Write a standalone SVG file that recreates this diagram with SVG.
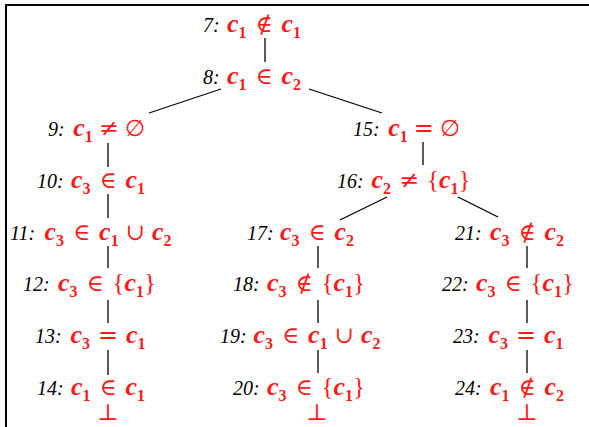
<svg xmlns="http://www.w3.org/2000/svg" width="589" height="427" viewBox="0 0 589 427">
<style>
.lb{font-family:"Liberation Serif","DejaVu Serif",serif;font-style:italic;font-size:20px;fill:#000}
.m{font-family:"Liberation Serif","DejaVu Serif",serif;font-size:21px;fill:#ff1a1a;text-anchor:middle}
.v{font-weight:bold;font-style:italic;font-size:26px}
.s{font-weight:bold;font-size:16px}
.r{font-family:"DejaVu Serif",serif;font-size:23px}
.ne{font-family:"DejaVu Serif",serif;font-size:24px}
.b{font-family:"Liberation Serif",serif;font-size:25px}
.e{stroke:#000;stroke-width:1.3;fill:none}
.frame{stroke:#000;stroke-width:2;fill:none}
</style>
<rect width="589" height="427" fill="#fff"/>
<path class="frame" d="M6 427 V5 H589"/>
<g id="connectors">
<path class="e" d="M265 38 V62"/>
<path class="e" d="M221 89 L149 113"/>
<path class="e" d="M309 89 L382 113"/>
<path class="e" d="M108 143 V167"/>
<path class="e" d="M108 194 V218"/>
<path class="e" d="M108 246 V268"/>
<path class="e" d="M108 300 V323"/>
<path class="e" d="M108 350 V375"/>
<path class="e" d="M423 142 V165"/>
<path class="e" d="M387 197 L340 220"/>
<path class="e" d="M458 197 L498 217"/>
<path class="e" d="M318 246 V268"/>
<path class="e" d="M318 300 V323"/>
<path class="e" d="M318 350 V373"/>
<path class="e" d="M527 246 V268"/>
<path class="e" d="M527 300 V323"/>
<path class="e" d="M527 350 V373"/>
</g>
<g id="n7"><text class="lb" x="203" y="32">7:</text><text class="m" x="264" y="32"><tspan class="v">c</tspan><tspan class="s" dy="6">1</tspan><tspan class="r" dy="-6" dx="9">∉</tspan><tspan class="v" dx="9">c</tspan><tspan class="s" dy="6">1</tspan></text></g>
<g id="n8"><text class="lb" x="203" y="84">8:</text><text class="m" x="264" y="84"><tspan class="v">c</tspan><tspan class="s" dy="6">1</tspan><tspan class="r" dy="-6" dx="9">∈</tspan><tspan class="v" dx="9">c</tspan><tspan class="s" dy="6">2</tspan></text></g>
<g id="n9"><text class="lb" x="48" y="136">9:</text><text class="m" x="109" y="136"><tspan class="v">c</tspan><tspan class="s" dy="6">1</tspan><tspan class="ne" dy="-6" dx="6">≠</tspan><tspan class="r" dx="6">∅</tspan></text></g>
<g id="n15"><text class="lb" x="353" y="136">15:</text><text class="m" x="424" y="136"><tspan class="v">c</tspan><tspan class="s" dy="6">1</tspan><tspan class="ne" dy="-6" dx="6">=</tspan><tspan class="r" dx="6">∅</tspan></text></g>
<g id="n10"><text class="lb" x="37" y="188">10:</text><text class="m" x="108" y="188"><tspan class="v">c</tspan><tspan class="s" dy="6">3</tspan><tspan class="r" dy="-6" dx="9">∈</tspan><tspan class="v" dx="9">c</tspan><tspan class="s" dy="6">1</tspan></text></g>
<g id="n16"><text class="lb" x="337" y="188">16:</text><text class="m" x="421" y="188"><tspan class="v">c</tspan><tspan class="s" dy="6">2</tspan><tspan class="ne" dy="-6" dx="8">≠</tspan><tspan class="b" dx="8">{</tspan><tspan class="v">c</tspan><tspan class="s" dy="6">1</tspan><tspan class="b" dy="-6">}</tspan></text></g>
<g id="n11"><text class="lb" x="10" y="240">11:</text><text class="m" x="108" y="240"><tspan class="v">c</tspan><tspan class="s" dy="6">3</tspan><tspan class="r" dy="-6" dx="9">∈</tspan><tspan class="v" dx="9">c</tspan><tspan class="s" dy="6">1</tspan><tspan class="r" dy="-6" dx="7">∪</tspan><tspan class="v" dx="7">c</tspan><tspan class="s" dy="6">2</tspan></text></g>
<g id="n17"><text class="lb" x="247" y="240">17:</text><text class="m" x="317" y="240"><tspan class="v">c</tspan><tspan class="s" dy="6">3</tspan><tspan class="r" dy="-6" dx="9">∈</tspan><tspan class="v" dx="9">c</tspan><tspan class="s" dy="6">2</tspan></text></g>
<g id="n21"><text class="lb" x="455" y="240">21:</text><text class="m" x="527" y="240"><tspan class="v">c</tspan><tspan class="s" dy="6">3</tspan><tspan class="r" dy="-6" dx="9">∉</tspan><tspan class="v" dx="9">c</tspan><tspan class="s" dy="6">2</tspan></text></g>
<g id="n12"><text class="lb" x="23" y="291">12:</text><text class="m" x="107" y="291"><tspan class="v">c</tspan><tspan class="s" dy="6">3</tspan><tspan class="r" dy="-6" dx="9">∈</tspan><tspan class="b" dx="9">{</tspan><tspan class="v">c</tspan><tspan class="s" dy="6">1</tspan><tspan class="b" dy="-6">}</tspan></text></g>
<g id="n18"><text class="lb" x="233" y="291">18:</text><text class="m" x="316" y="291"><tspan class="v">c</tspan><tspan class="s" dy="6">3</tspan><tspan class="r" dy="-6" dx="9">∉</tspan><tspan class="b" dx="9">{</tspan><tspan class="v">c</tspan><tspan class="s" dy="6">1</tspan><tspan class="b" dy="-6">}</tspan></text></g>
<g id="n22"><text class="lb" x="442" y="291">22:</text><text class="m" x="525" y="291"><tspan class="v">c</tspan><tspan class="s" dy="6">3</tspan><tspan class="r" dy="-6" dx="9">∈</tspan><tspan class="b" dx="9">{</tspan><tspan class="v">c</tspan><tspan class="s" dy="6">1</tspan><tspan class="b" dy="-6">}</tspan></text></g>
<g id="n13"><text class="lb" x="35" y="343">13:</text><text class="m" x="108" y="343"><tspan class="v">c</tspan><tspan class="s" dy="6">3</tspan><tspan class="ne" dy="-6" dx="8">=</tspan><tspan class="v" dx="8">c</tspan><tspan class="s" dy="6">1</tspan></text></g>
<g id="n19"><text class="lb" x="220" y="343">19:</text><text class="m" x="317" y="343"><tspan class="v">c</tspan><tspan class="s" dy="6">3</tspan><tspan class="r" dy="-6" dx="9">∈</tspan><tspan class="v" dx="9">c</tspan><tspan class="s" dy="6">1</tspan><tspan class="r" dy="-6" dx="7">∪</tspan><tspan class="v" dx="7">c</tspan><tspan class="s" dy="6">2</tspan></text></g>
<g id="n23"><text class="lb" x="453" y="343">23:</text><text class="m" x="526" y="343"><tspan class="v">c</tspan><tspan class="s" dy="6">3</tspan><tspan class="ne" dy="-6" dx="8">=</tspan><tspan class="v" dx="8">c</tspan><tspan class="s" dy="6">1</tspan></text></g>
<g id="n14"><text class="lb" x="37" y="395">14:</text><text class="m" x="108" y="395"><tspan class="v">c</tspan><tspan class="s" dy="6">1</tspan><tspan class="r" dy="-6" dx="9">∈</tspan><tspan class="v" dx="9">c</tspan><tspan class="s" dy="6">1</tspan></text><text class="m r" x="108" y="420">⊥</text></g>
<g id="n20"><text class="lb" x="233" y="395">20:</text><text class="m" x="316" y="395"><tspan class="v">c</tspan><tspan class="s" dy="6">3</tspan><tspan class="r" dy="-6" dx="9">∈</tspan><tspan class="b" dx="9">{</tspan><tspan class="v">c</tspan><tspan class="s" dy="6">1</tspan><tspan class="b" dy="-6">}</tspan></text><text class="m r" x="317" y="420">⊥</text></g>
<g id="n24"><text class="lb" x="455" y="395">24:</text><text class="m" x="527" y="395"><tspan class="v">c</tspan><tspan class="s" dy="6">1</tspan><tspan class="r" dy="-6" dx="9">∉</tspan><tspan class="v" dx="9">c</tspan><tspan class="s" dy="6">2</tspan></text><text class="m r" x="527" y="420">⊥</text></g>
</svg>
